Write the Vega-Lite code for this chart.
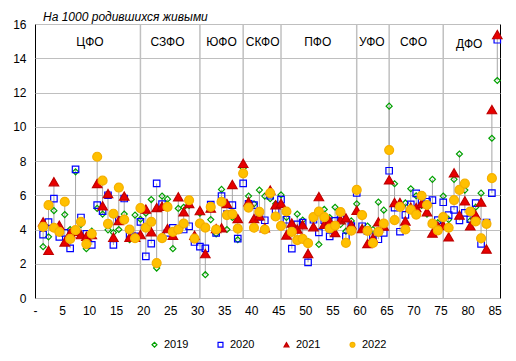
{
  "$schema": "https://vega.github.io/schema/vega-lite/v6.json",
  "width": 465,
  "height": 274,
  "autosize": {"type": "none"},
  "padding": {"left": 35, "top": 24, "right": 16, "bottom": 63},
  "background": "white",
  "title": {"text": "На 1000 родившихся живыми", "anchor": "start", "frame": "group", "font": "Liberation Sans", "fontSize": 12, "fontStyle": "italic", "fontWeight": "normal", "color": "black", "dx": 8, "offset": -6},
  "config": {
    "view": {"stroke": "black", "strokeWidth": 1},
    "font": "Liberation Sans",
    "axis": {"labelFont": "Liberation Sans", "labelFontSize": 12, "labelColor": "black", "ticks": false, "domain": false, "title": null, "gridColor": "#bfbfbf", "gridWidth": 1, "gridOpacity": 1, "labelOverlap": false, "tickCount": 100},
    "legend": {"orient": "none", "legendX": 114, "legendY": 315, "direction": "horizontal", "columns": 4, "columnPadding": 26, "symbolSize": 24, "symbolStrokeWidth": 1.2, "labelFontSize": 11, "labelFont": "Liberation Sans", "labelColor": "black", "labelOffset": 4, "padding": 0, "titlePadding": 0}
  },
  "datasets": {
    "vals": [
      {"n":1,"2019":3.0,"2020":3.7,"2021":4.45,"2022":4.15},
      {"n":2,"2019":3.57,"2020":4.43,"2021":2.78,"2022":5.42},
      {"n":3,"2019":5.1,"2020":5.8,"2021":6.79,"2022":4.1},
      {"n":4,"2019":3.9,"2020":3.57,"2021":4.25,"2022":3.86},
      {"n":5,"2019":4.87,"2020":3.8,"2021":3.27,"2022":5.62},
      {"n":6,"2019":4.0,"2020":2.9,"2021":3.8,"2022":3.45},
      {"n":7,"2019":7.37,"2020":7.51,"2021":3.9,"2022":3.96},
      {"n":8,"2019":4.3,"2020":4.7,"2021":3.7,"2022":4.45},
      {"n":9,"2019":2.88,"2020":3.75,"2021":3.6,"2022":3.15},
      {"n":10,"2019":3.9,"2020":3.1,"2021":3.7,"2022":3.75},
      {"n":11,"2019":5.23,"2020":5.42,"2021":6.69,"2022":8.25},
      {"n":12,"2019":4.9,"2020":5.07,"2021":5.38,"2022":6.85},
      {"n":13,"2019":3.98,"2020":6.0,"2021":6.1,"2022":4.33},
      {"n":14,"2019":3.82,"2020":3.1,"2021":3.55,"2022":4.92},
      {"n":15,"2019":4.0,"2020":4.55,"2021":4.52,"2022":6.45},
      {"n":16,"2019":4.9,"2020":5.81,"2021":5.95,"2022":4.58},
      {"n":17,"2019":3.4,"2020":3.64,"2021":3.55,"2022":4.0},
      {"n":18,"2019":4.84,"2020":3.6,"2021":3.55,"2022":3.49},
      {"n":19,"2019":4.6,"2020":4.45,"2021":3.7,"2022":5.25},
      {"n":20,"2019":4.95,"2020":2.43,"2021":5.19,"2022":4.11},
      {"n":21,"2019":5.75,"2020":3.18,"2021":3.86,"2022":4.45},
      {"n":22,"2019":1.75,"2020":6.69,"2021":5.28,"2022":2.04},
      {"n":23,"2019":5.95,"2020":5.48,"2021":5.36,"2022":3.5},
      {"n":24,"2019":5.77,"2020":3.8,"2021":4.05,"2022":5.32},
      {"n":25,"2019":2.88,"2020":4.1,"2021":3.66,"2022":3.86},
      {"n":26,"2019":5.23,"2020":4.0,"2021":5.91,"2022":4.0},
      {"n":27,"2019":5.3,"2020":4.0,"2021":5.03,"2022":4.35},
      {"n":28,"2019":5.4,"2020":4.19,"2021":5.52,"2022":5.71},
      {"n":29,"2019":3.5,"2020":3.27,"2021":3.66,"2022":3.47},
      {"n":30,"2019":4.95,"2020":3.0,"2021":5.1,"2022":4.35},
      {"n":31,"2019":1.36,"2020":2.9,"2021":2.59,"2022":4.11},
      {"n":32,"2019":4.58,"2020":5.45,"2021":5.25,"2022":5.32},
      {"n":33,"2019":3.75,"2020":3.8,"2021":4.05,"2022":4.0},
      {"n":34,"2019":6.34,"2020":5.95,"2021":4.1,"2022":5.62},
      {"n":35,"2019":4.0,"2020":4.9,"2021":5.52,"2022":4.84},
      {"n":36,"2019":4.7,"2020":5.42,"2021":6.63,"2022":4.9},
      {"n":37,"2019":3.4,"2020":3.47,"2021":4.64,"2022":4.05},
      {"n":38,"2019":7.58,"2020":6.69,"2021":7.86,"2022":7.28},
      {"n":39,"2019":5.95,"2020":5.5,"2021":5.62,"2022":5.28},
      {"n":40,"2019":5.5,"2020":5.42,"2021":4.64,"2022":4.1},
      {"n":41,"2019":6.3,"2020":4.74,"2021":4.8,"2022":5.03},
      {"n":42,"2019":5.95,"2020":4.54,"2021":4.1,"2022":4.0},
      {"n":43,"2019":5.8,"2020":5.97,"2021":6.3,"2022":6.12},
      {"n":44,"2019":5.5,"2020":5.1,"2021":5.44,"2022":4.76},
      {"n":45,"2019":6.02,"2020":5.74,"2021":5.53,"2022":4.21},
      {"n":46,"2019":4.7,"2020":4.57,"2021":3.68,"2022":5.05},
      {"n":47,"2019":4.1,"2020":2.88,"2021":4.38,"2022":3.86},
      {"n":48,"2019":4.9,"2020":4.3,"2021":4.02,"2022":3.38},
      {"n":49,"2019":4.55,"2020":4.4,"2021":4.28,"2022":3.45},
      {"n":50,"2019":3.3,"2020":2.08,"2021":2.6,"2022":3.2},
      {"n":51,"2019":4.6,"2020":4.57,"2021":4.16,"2022":4.72},
      {"n":52,"2019":3.13,"2020":3.83,"2021":5.92,"2022":5.04},
      {"n":53,"2019":5.17,"2020":4.54,"2021":4.3,"2022":4.72},
      {"n":54,"2019":4.7,"2020":3.6,"2021":4.5,"2022":4.06},
      {"n":55,"2019":5.3,"2020":4.5,"2021":3.82,"2022":4.22},
      {"n":56,"2019":4.3,"2020":4.6,"2021":4.57,"2022":5.02},
      {"n":57,"2019":3.9,"2020":3.6,"2021":4.68,"2022":3.22},
      {"n":58,"2019":4.5,"2020":4.2,"2021":4.27,"2022":3.93},
      {"n":59,"2019":5.5,"2020":6.13,"2021":5.12,"2022":6.31},
      {"n":60,"2019":4.9,"2020":4.19,"2021":4.05,"2022":4.84},
      {"n":61,"2019":4.2,"2020":3.9,"2021":3.18,"2022":3.92},
      {"n":62,"2019":4.0,"2020":3.6,"2021":3.5,"2022":3.21},
      {"n":63,"2019":5.6,"2020":3.43,"2021":4.45,"2022":3.86},
      {"n":64,"2019":5.13,"2020":3.8,"2021":4.2,"2022":4.35},
      {"n":65,"2019":11.2,"2020":7.43,"2021":6.9,"2022":8.64},
      {"n":66,"2019":6.67,"2020":5.28,"2021":5.58,"2022":4.55},
      {"n":67,"2019":5.3,"2020":3.87,"2021":5.58,"2022":5.32},
      {"n":68,"2019":5.55,"2020":4.85,"2021":4.5,"2022":4.0},
      {"n":69,"2019":6.38,"2020":5.47,"2021":5.3,"2022":5.16},
      {"n":70,"2019":5.97,"2020":6.11,"2021":5.28,"2022":4.87},
      {"n":71,"2019":5.4,"2020":5.6,"2021":5.52,"2022":5.97},
      {"n":72,"2019":4.9,"2020":5.62,"2021":5.04,"2022":5.43},
      {"n":73,"2019":6.93,"2020":5.72,"2021":3.79,"2022":4.34},
      {"n":74,"2019":4.4,"2020":4.55,"2021":4.2,"2022":3.95},
      {"n":75,"2019":5.95,"2020":5.59,"2021":4.25,"2022":4.72},
      {"n":76,"2019":4.58,"2020":4.84,"2021":3.57,"2022":4.1},
      {"n":77,"2019":6.93,"2020":5.14,"2021":7.31,"2022":5.72},
      {"n":78,"2019":8.41,"2020":4.53,"2021":4.84,"2022":6.31},
      {"n":79,"2019":6.3,"2020":4.97,"2021":5.67,"2022":6.68},
      {"n":80,"2019":4.5,"2020":4.6,"2021":4.21,"2022":5.05},
      {"n":81,"2019":5.3,"2020":5.54,"2021":4.85,"2022":4.47},
      {"n":82,"2019":6.12,"2020":3.16,"2021":5.6,"2022":3.49},
      {"n":83,"2019":4.3,"2020":4.4,"2021":2.86,"2022":4.33},
      {"n":84,"2019":9.33,"2020":6.12,"2021":11.0,"2022":7.0},
      {"n":85,"2019":12.7,"2020":15.08,"2021":15.38,"2022":null}
    ],
    "seps": [{"n":19},{"n":30},{"n":38},{"n":45},{"n":59},{"n":65},{"n":75}],
    "districts": [
      {"n":9.66,"v":14.93,"t":"ЦФО"},
      {"n":24.0,"v":14.93,"t":"СЗФО"},
      {"n":34.0,"v":14.93,"t":"ЮФО"},
      {"n":41.6,"v":14.93,"t":"СКФО"},
      {"n":51.8,"v":14.93,"t":"ПФО"},
      {"n":61.8,"v":14.93,"t":"УФО"},
      {"n":69.5,"v":14.93,"t":"СФО"},
      {"n":79.8,"v":14.83,"t":"ДФО"}
    ]
  },
  "layer": [
    {
      "data": {"name": "seps"},
      "mark": {"type": "rule", "color": "#c0c0c0", "strokeWidth": 1.5},
      "encoding": {
        "x": {"field": "n", "type": "quantitative", "scale": {"domain": [-0.5, 85.5], "nice": false, "zero": false},
          "axis": {"values": [-0.5,4.5,9.5,14.5,19.5,24.5,29.5,34.5,39.5,44.5,49.5,54.5,59.5,64.5,69.5,74.5,79.5,84.5], "tickCount": 100, "labelExpr": "datum.value < 0 ? '-' : format(datum.value + 0.5, 'd')", "grid": false, "labelFlush": false, "labelOverlap": false, "labelPadding": 7}}
      }
    },
    {
      "data": {"name": "vals"},
      "transform": [
        {"fold": ["2019", "2020", "2021", "2022"], "as": ["year", "v"]},
        {"filter": "isValid(datum.v)"},
        {"aggregate": [{"op": "min", "field": "v", "as": "lo"}, {"op": "max", "field": "v", "as": "hi"}], "groupby": ["n"]}
      ],
      "mark": {"type": "rule", "color": "#a6a6a6", "strokeWidth": 1},
      "encoding": {
        "x": {"field": "n", "type": "quantitative"},
        "y": {"field": "lo", "type": "quantitative", "scale": {"domain": [0, 16], "nice": false},
          "axis": {"values": [0,2,4,6,8,10,12,14,16], "tickCount": 100, "format": "d", "grid": true, "labelOverlap": false, "labelPadding": 9}},
        "y2": {"field": "hi"}
      }
    },
    {
      "data": {"name": "vals"},
      "transform": [
        {"fold": ["2019", "2020", "2021", "2022"], "as": ["year", "v"]},
        {"filter": "isValid(datum.v)"}
      ],
      "mark": {"type": "point", "filled": true, "strokeWidth": 1.2, "opacity": 1},
      "encoding": {
        "x": {"field": "n", "type": "quantitative"},
        "y": {"field": "v", "type": "quantitative"},
        "order": {"field": "year", "type": "ordinal"},
        "shape": {"field": "year", "type": "nominal", "title": null,
          "scale": {"domain": ["2019","2020","2021","2022"], "range": ["diamond", "square", "triangle-up", "circle"]}},
        "stroke": {"field": "year", "type": "nominal", "title": null,
          "scale": {"domain": ["2019","2020","2021","2022"], "range": ["#00a000", "#0000ff", "#c00000", "#f5b000"]}},
        "fill": {"field": "year", "type": "nominal", "title": null,
          "scale": {"domain": ["2019","2020","2021","2022"], "range": ["transparent", "transparent", "#e80000", "#ffc000"]}},
        "size": {"field": "year", "type": "nominal", "title": null, "legend": null,
          "scale": {"type": "ordinal", "domain": ["2022","2021","2020","2019"], "range": [80, 90, 42, 36]}}
      }
    },
    {
      "data": {"name": "districts"},
      "mark": {"type": "text", "font": "Liberation Sans", "fontSize": 12, "color": "black", "align": "center", "baseline": "middle"},
      "encoding": {
        "x": {"field": "n", "type": "quantitative"},
        "y": {"field": "v", "type": "quantitative"},
        "text": {"field": "t"}
      }
    }
  ]
}
